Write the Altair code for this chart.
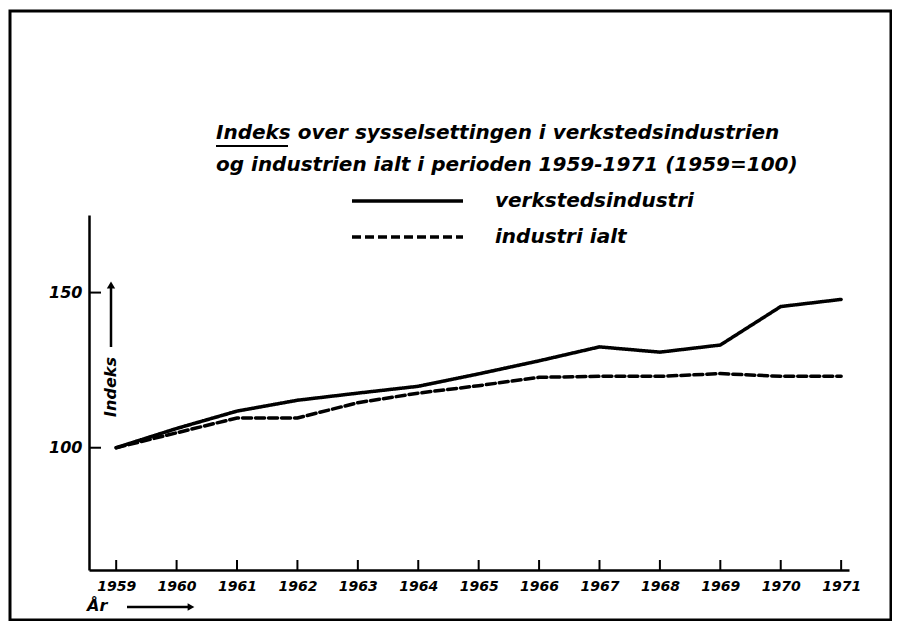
import altair as alt
import pandas as pd

years = [1959, 1960, 1961, 1962, 1963, 1964, 1965, 1966, 1967, 1968, 1969, 1970, 1971]
verksted = [100, 106.2, 111.8, 115.3, 117.6, 119.8, 123.8, 128.0, 132.5, 130.8, 133.1, 145.5, 147.8]
industri = [100, 104.8, 109.6, 109.6, 114.5, 117.6, 120.0, 122.7, 123.0, 123.0, 123.9, 123.0, 123.0]
series_names = ["verkstedsindustri", "industri ialt"]
y_ticks = [100, 150]
title_lines = ["Indeks over sysselsettingen i verkstedsindustrien",
               "og industrien ialt i perioden 1959-1971 (1959=100)"]

W, H = 760, 355
FONT = "DejaVu Sans"

rows = []
for y, v, i in zip(years, verksted, industri):
    rows.append({"year": y, "value": v, "series": series_names[0]})
    rows.append({"year": y, "value": i, "series": series_names[1]})
df = pd.DataFrame(rows)

xscale = alt.Scale(domain=[1958.55, 1971.13], nice=False, zero=False)
yscale = alt.Scale(domain=[60.6, 175], nice=False, zero=False)

base = alt.Chart(df)

lines = base.mark_line(strokeWidth=3.5, color="black", strokeCap="round").encode(
    x=alt.X("year:Q", scale=xscale,
            axis=alt.Axis(values=years, format="d", tickSize=0, grid=False,
                          domainColor="black", domainWidth=2.5, labelPadding=9,
                          labelFont=FONT, labelFontSize=14, labelFontStyle="italic",
                          labelFontWeight="bold", labelColor="black", title=None,
                          labelFlush=False)),
    y=alt.Y("value:Q", scale=yscale,
            axis=alt.Axis(values=y_ticks, tickSize=0, grid=False,
                          domainColor="black", domainWidth=2.5, labelPadding=7,
                          labelFont=FONT, labelFontSize=16, labelFontStyle="italic",
                          labelFontWeight="bold", labelColor="black", title=None)),
    strokeDash=alt.StrokeDash("series:N",
                              scale=alt.Scale(domain=series_names, range=[[1, 0], [9, 4]]),
                              legend=None),
    detail="series:N",
)

xt = pd.DataFrame({"year": years})
xticks = alt.Chart(xt).mark_rule(color="black", strokeWidth=2).encode(
    x=alt.X("year:Q", scale=xscale),
    y=alt.value(H), y2=alt.value(H - 10),
)

yt = pd.DataFrame({"value": y_ticks})
yticks = alt.Chart(yt).mark_rule(color="black", strokeWidth=2).encode(
    y=alt.Y("value:Q", scale=yscale),
    x=alt.value(0), x2=alt.value(12),
)

# legend
leg = pd.DataFrame({"series": series_names, "ly": [-14, 22]})
leg_lines = alt.Chart(leg).mark_rule(strokeWidth=3.5, color="black").encode(
    x=alt.value(263), x2=alt.value(374),
    y=alt.Y("ly:Q", scale=None),
    strokeDash=alt.StrokeDash("series:N",
                              scale=alt.Scale(domain=series_names, range=[[1, 0], [9, 4]]),
                              legend=None),
)
leg_text = alt.Chart(leg).mark_text(align="left", baseline="middle", font=FONT,
                                    fontSize=20, fontStyle="italic", fontWeight="bold",
                                    color="black").encode(
    x=alt.value(406), y=alt.Y("ly:Q", scale=None), text="series:N")

# title
tl = pd.DataFrame({"t": title_lines, "ty": [-82, -50]})
title_text = alt.Chart(tl).mark_text(align="left", baseline="middle", font=FONT,
                                     fontSize=20, fontStyle="italic", fontWeight="bold",
                                     color="black").encode(
    x=alt.value(127), y=alt.Y("ty:Q", scale=None), text="t:N")
underline = alt.Chart(tl.head(1)).mark_rule(color="black", strokeWidth=2).encode(
    x=alt.value(127), x2=alt.value(199), y=alt.value(-69))

# y axis title with arrow
ytitle = alt.Chart(pd.DataFrame({"t": ["Indeks"]})).mark_text(
    angle=270, align="center", baseline="middle", font=FONT, fontSize=16,
    fontStyle="italic", fontWeight="bold", color="black").encode(
    x=alt.value(22), y=alt.value(172), text="t:N")
yarrow = alt.Chart(pd.DataFrame({"a": [1]})).mark_rule(color="black", strokeWidth=2.5).encode(
    x=alt.value(22), y=alt.value(132), y2=alt.value(72))
yhead = alt.Chart(pd.DataFrame({"a": [1]})).mark_point(
    shape="triangle-up", filled=True, color="black", size=70, opacity=1).encode(
    x=alt.value(22), y=alt.value(70))

# x axis title with arrow
xtitle = alt.Chart(pd.DataFrame({"t": ["År"]})).mark_text(
    align="left", baseline="middle", font=FONT, fontSize=16, fontStyle="italic",
    fontWeight="bold", color="black").encode(
    x=alt.value(-2), y=alt.value(H + 36), text="t:N")
xarrow = alt.Chart(pd.DataFrame({"a": [1]})).mark_rule(color="black", strokeWidth=2.5).encode(
    x=alt.value(38), x2=alt.value(100), y=alt.value(H + 37))
xhead = alt.Chart(pd.DataFrame({"a": [1]})).mark_point(
    shape="triangle-right", filled=True, color="black", size=60, opacity=1).encode(
    x=alt.value(102), y=alt.value(H + 37))

# outer frame
frame = alt.Chart(pd.DataFrame({"a": [1]})).mark_rect(
    fill=None, stroke="black", strokeWidth=3).encode(
    x=alt.value(-79), x2=alt.value(802), y=alt.value(-204), y2=alt.value(405))

chart = alt.layer(
    frame, lines, xticks, yticks, leg_lines, leg_text, title_text, underline,
    ytitle, yarrow, yhead, xtitle, xarrow, xhead
).properties(
    width=W, height=H,
    autosize=alt.AutoSizeParams(type="none"),
    padding={"left": 81, "top": 207, "right": 43, "bottom": 51},
).configure(background="white").configure_view(stroke=None)

chart.save("out.html", embed_options={"renderer": "svg", "actions": False})
